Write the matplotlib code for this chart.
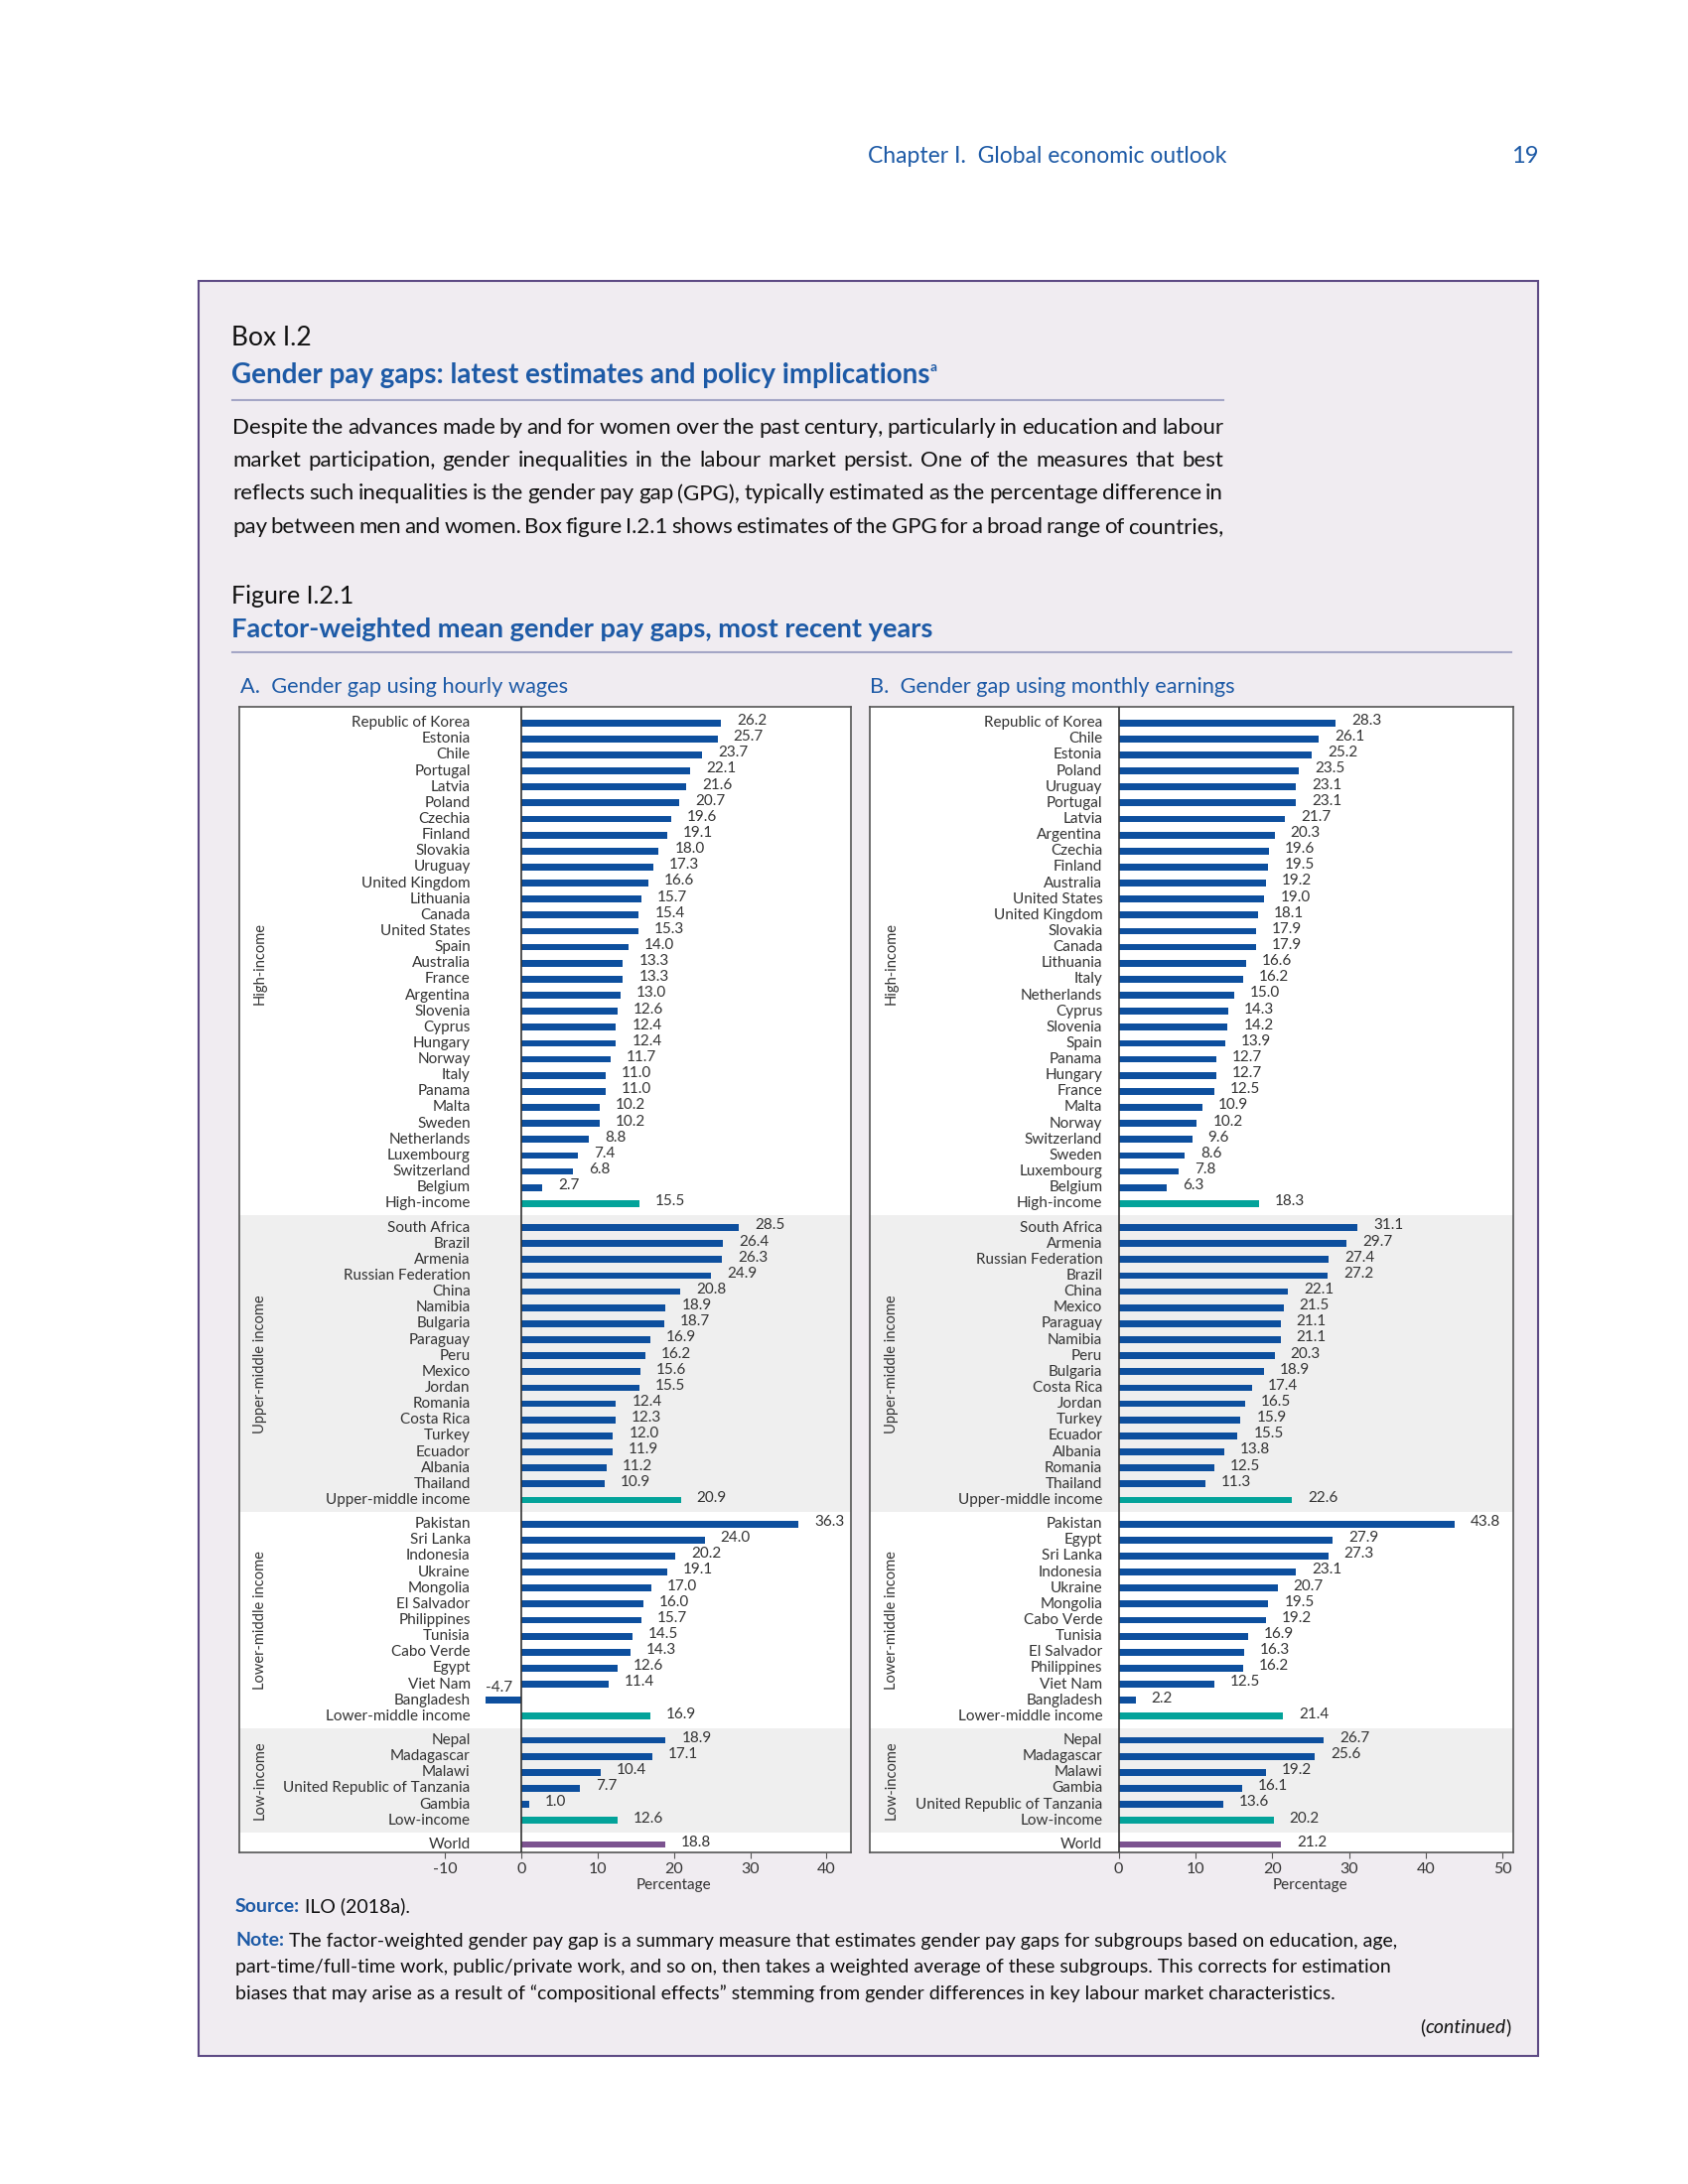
import matplotlib
matplotlib.use('Agg')
import matplotlib.pyplot as plt
from matplotlib import patches, transforms

plt.rcParams['font.family'] = ['Lato', 'DejaVu Sans']
plt.rcParams['axes.unicode_minus'] = False

W, H = 1700, 2200

# ---- data -------------------------------------------------------------
groups = ['High-income', 'Upper-middle income', 'Lower-middle income', 'Low-income']
agg_names = ['High-income', 'Upper-middle income', 'Lower-middle income', 'Low-income']

a_high = ['Republic of Korea', 'Estonia', 'Chile', 'Portugal', 'Latvia', 'Poland', 'Czechia',
          'Finland', 'Slovakia', 'Uruguay', 'United Kingdom', 'Lithuania', 'Canada',
          'United States', 'Spain', 'Australia', 'France', 'Argentina', 'Slovenia', 'Cyprus',
          'Hungary', 'Norway', 'Italy', 'Panama', 'Malta', 'Sweden', 'Netherlands',
          'Luxembourg', 'Switzerland', 'Belgium']
a_high_v = [26.2, 25.7, 23.7, 22.1, 21.6, 20.7, 19.6, 19.1, 18.0, 17.3, 16.6, 15.7, 15.4,
            15.3, 14.0, 13.3, 13.3, 13.0, 12.6, 12.4, 12.4, 11.7, 11.0, 11.0, 10.2, 10.2,
            8.8, 7.4, 6.8, 2.7]
a_upper = ['South Africa', 'Brazil', 'Armenia', 'Russian Federation', 'China', 'Namibia',
           'Bulgaria', 'Paraguay', 'Peru', 'Mexico', 'Jordan', 'Romania', 'Costa Rica',
           'Turkey', 'Ecuador', 'Albania', 'Thailand']
a_upper_v = [28.5, 26.4, 26.3, 24.9, 20.8, 18.9, 18.7, 16.9, 16.2, 15.6, 15.5, 12.4, 12.3,
             12.0, 11.9, 11.2, 10.9]
a_lower = ['Pakistan', 'Sri Lanka', 'Indonesia', 'Ukraine', 'Mongolia', 'El Salvador',
           'Philippines', 'Tunisia', 'Cabo Verde', 'Egypt', 'Viet Nam', 'Bangladesh']
a_lower_v = [36.3, 24.0, 20.2, 19.1, 17.0, 16.0, 15.7, 14.5, 14.3, 12.6, 11.4, -4.7]
a_low = ['Nepal', 'Madagascar', 'Malawi', 'United Republic of Tanzania', 'Gambia']
a_low_v = [18.9, 17.1, 10.4, 7.7, 1.0]
a_agg = [15.5, 20.9, 16.9, 12.6]
a_world = 18.8

b_high = ['Republic of Korea', 'Chile', 'Estonia', 'Poland', 'Uruguay', 'Portugal', 'Latvia',
          'Argentina', 'Czechia', 'Finland', 'Australia', 'United States', 'United Kingdom',
          'Slovakia', 'Canada', 'Lithuania', 'Italy', 'Netherlands', 'Cyprus', 'Slovenia',
          'Spain', 'Panama', 'Hungary', 'France', 'Malta', 'Norway', 'Switzerland', 'Sweden',
          'Luxembourg', 'Belgium']
b_high_v = [28.3, 26.1, 25.2, 23.5, 23.1, 23.1, 21.7, 20.3, 19.6, 19.5, 19.2, 19.0, 18.1,
            17.9, 17.9, 16.6, 16.2, 15.0, 14.3, 14.2, 13.9, 12.7, 12.7, 12.5, 10.9, 10.2,
            9.6, 8.6, 7.8, 6.3]
b_upper = ['South Africa', 'Armenia', 'Russian Federation', 'Brazil', 'China', 'Mexico',
           'Paraguay', 'Namibia', 'Peru', 'Bulgaria', 'Costa Rica', 'Jordan', 'Turkey',
           'Ecuador', 'Albania', 'Romania', 'Thailand']
b_upper_v = [31.1, 29.7, 27.4, 27.2, 22.1, 21.5, 21.1, 21.1, 20.3, 18.9, 17.4, 16.5, 15.9,
             15.5, 13.8, 12.5, 11.3]
b_lower = ['Pakistan', 'Egypt', 'Sri Lanka', 'Indonesia', 'Ukraine', 'Mongolia', 'Cabo Verde',
           'Tunisia', 'El Salvador', 'Philippines', 'Viet Nam', 'Bangladesh']
b_lower_v = [43.8, 27.9, 27.3, 23.1, 20.7, 19.5, 19.2, 16.9, 16.3, 16.2, 12.5, 2.2]
b_low = ['Nepal', 'Madagascar', 'Malawi', 'Gambia', 'United Republic of Tanzania']
b_low_v = [26.7, 25.6, 19.2, 16.1, 13.6]
b_agg = [18.3, 22.6, 21.4, 20.2]
b_world = 21.2

BLUE = '#0d4f9e'
TEAL = '#03a39a'
PURPLE = '#7c5390'
TXT = '#333333'
HEAD = '#1d5aa6'
GAP = 1.5


def fx(px):
    return px / W


def fy(py):
    return 1 - py / H


def build(groups_c, groups_v, aggs, world):
    names, vals, cols, ys, mids, bounds = [], [], [], [], [], []
    y = 0.0
    for gi, (cn, cv) in enumerate(zip(groups_c, groups_v)):
        start = y
        for n, v in zip(cn, cv):
            names.append(n); vals.append(v); cols.append(BLUE); ys.append(y)
            y += 1
        names.append(agg_names[gi]); vals.append(aggs[gi]); cols.append(TEAL); ys.append(y)
        mids.append((start + y) / 2)
        bounds.append(y + GAP / 2)
        y += GAP
    names.append('World'); vals.append(world); cols.append(PURPLE); ys.append(y)
    return names, vals, cols, ys, mids, bounds


def panel(rect, xlim, ticks, label_x, pct_x, data):
    names, vals, cols, ys, mids, bounds = data
    ax = fig.add_axes(rect)
    ax.set_xlim(*xlim)
    ax.set_ylim(ys[-1] + 0.5, -1.0)
    ax.set_facecolor('white')
    ax.axhspan(bounds[0], bounds[1], color='#efefef', zorder=0, lw=0)
    ax.axhspan(bounds[2], bounds[3], color='#efefef', zorder=0, lw=0)
    ax.barh(ys, vals, height=0.42, color=cols, zorder=2)
    ax.axvline(0, color='#333333', lw=1.2, zorder=3)
    for s in ax.spines.values():
        s.set_color('#555555')
        s.set_linewidth(1.2)
    ax.set_yticks([])
    ax.set_xticks(ticks)
    ax.tick_params(axis='x', length=4, color='#555555', labelsize=11.5,
                   labelcolor=TXT, pad=3)
    for n, v, y in zip(names, vals, ys):
        ax.text(label_x, y, n, ha='right', va='center', fontsize=11, color=TXT)
        if v < 0:
            ax.annotate(f'{v:.1f}', (v, y), xytext=(0, 9), textcoords='offset points',
                        ha='left', va='center', fontsize=11, color=TXT)
        else:
            ax.annotate(f'{v:.1f}', (v, y), xytext=(11.5, 1.5), textcoords='offset points',
                        ha='left', va='center', fontsize=11, color=TXT)
    tr = transforms.blended_transform_factory(ax.transAxes, ax.transData)
    for g, m in zip(groups, mids):
        ax.text(0.034, m, g, transform=tr, rotation=90, ha='center', va='center',
                fontsize=10.5, color=TXT)
    ax.annotate('Percentage', (pct_x, 0), xycoords=('data', 'axes fraction'),
                xytext=(0, -24), textcoords='offset points', ha='center', va='center',
                fontsize=11, color=TXT)
    return ax


def runs(pieces, x, y, right=False):
    # place pieces of text one after another (pixels)
    r = fig.canvas.get_renderer()
    ts = []
    for s, kw, dy in pieces:
        t = fig.text(0, fy(y + dy), s, va='center', **kw)
        ts.append((t, t.get_window_extent(r).width))
    if right:
        x = x - sum(w for _, w in ts)
    for t, w in ts:
        t.set_x(fx(x))
        x += w


def justify(line, x0, x1, y, **kw):
    r = fig.canvas.get_renderer()
    words = line.split()
    ts = [fig.text(0, fy(y), w, va='center', **kw) for w in words]
    ws = [t.get_window_extent(r).width for t in ts]
    gap = ((x1 - x0) - sum(ws)) / (len(words) - 1)
    x = x0
    for t, w in zip(ts, ws):
        t.set_x(fx(x))
        x += w + gap


fig = plt.figure(figsize=(W / 100, H / 100), dpi=100)
fig.patch.set_facecolor('white')

# page header
fig.text(fx(1235), fy(157), 'Chapter I.  Global economic outlook', ha='right', va='center',
         fontsize=16.5, color=HEAD)
fig.text(fx(1550), fy(157), '19', ha='right', va='center', fontsize=17, color=HEAD)

# box
fig.add_artist(patches.Rectangle((fx(200), fy(2071)), fx(1549) - fx(200), (2071 - 283) / H,
                                 transform=fig.transFigure, facecolor='#f0ecf1',
                                 edgecolor='#5e4b85', lw=1.5, zorder=0))

fig.text(fx(233), fy(341), 'Box I.2', va='center', fontsize=19, color='#111111')
runs([('Gender pay gaps: latest estimates and policy implications',
       dict(fontsize=20, color=HEAD, fontweight='bold'), 0),
      ('a', dict(fontsize=10, color=HEAD, fontweight='bold'), -8)], 233, 378)
fig.add_artist(plt.Line2D([fx(234), fx(1232)], [fy(403), fy(403)], color='#a4a6c6', lw=1.5,
                          transform=fig.transFigure))

para = ['Despite the advances made by and for women over the past century, particularly in education and labour',
        'market participation, gender inequalities in the labour market persist. One of the measures that best',
        'reflects such inequalities is the gender pay gap (GPG), typically estimated as the percentage difference in',
        'pay between men and women. Box figure I.2.1 shows estimates of the GPG for a broad range of countries,']
for i, line in enumerate(para):
    justify(line, 234, 1232, 431 + i * 33.2, fontsize=16, color='#111111')

fig.text(fx(233), fy(600), 'Figure I.2.1', va='center', fontsize=18, color='#111111')
fig.text(fx(233), fy(634), 'Factor-weighted mean gender pay gaps, most recent years',
         va='center', fontsize=19.6, color=HEAD, fontweight='bold')
fig.add_artist(plt.Line2D([fx(234), fx(1522)], [fy(657), fy(657)], color='#a4a6c6', lw=1.5,
                          transform=fig.transFigure))

fig.text(fx(242), fy(692), 'A.  Gender gap using hourly wages', va='center', fontsize=15.7,
         color=HEAD)
fig.text(fx(876), fy(692), 'B.  Gender gap using monthly earnings', va='center', fontsize=15.7,
         color=HEAD)

data_a = build([a_high, a_upper, a_lower, a_low], [a_high_v, a_upper_v, a_lower_v, a_low_v],
               a_agg, a_world)
data_b = build([b_high, b_upper, b_lower, b_low], [b_high_v, b_upper_v, b_lower_v, b_low_v],
               b_agg, b_world)

top, bot = 712, 1866
panel([fx(241), fy(bot), (857 - 241) / W, (bot - top) / H], (-37.0, 43.2),
      [-10, 0, 10, 20, 30, 40], -6.7, 20, data_a)
panel([fx(876), fy(bot), (1524 - 876) / W, (bot - top) / H], (-32.4, 51.4),
      [0, 10, 20, 30, 40, 50], -2.1, 25, data_b)

# source and note
BODY = dict(fontsize=14, color='#111111')
runs([('Source:', dict(fontsize=14, color=HEAD, fontweight='bold'), 0),
      (' ILO (2018a).', BODY, 0)], 237, 1920)
note = ['The factor-weighted gender pay gap is a summary measure that estimates gender pay gaps for subgroups based on education, age,',
        'part-time/full-time work, public/private work, and so on, then takes a weighted average of these subgroups. This corrects for estimation',
        'biases that may arise as a result of \u201ccompositional effects\u201d stemming from gender differences in key labour market characteristics.']
runs([('Note:', dict(fontsize=14, color=HEAD, fontweight='bold'), 0),
      (' ' + note[0], BODY, 0)], 237, 1955)
fig.text(fx(237), fy(1982), note[1], va='center', **BODY)
fig.text(fx(237), fy(2008), note[2], va='center', **BODY)
runs([('(', BODY, 0),
      ('continued', dict(BODY, fontstyle='italic'), 0),
      (')', BODY, 0)], 1522, 2042, right=True)

fig.savefig('out.png', dpi=100, facecolor='white')
